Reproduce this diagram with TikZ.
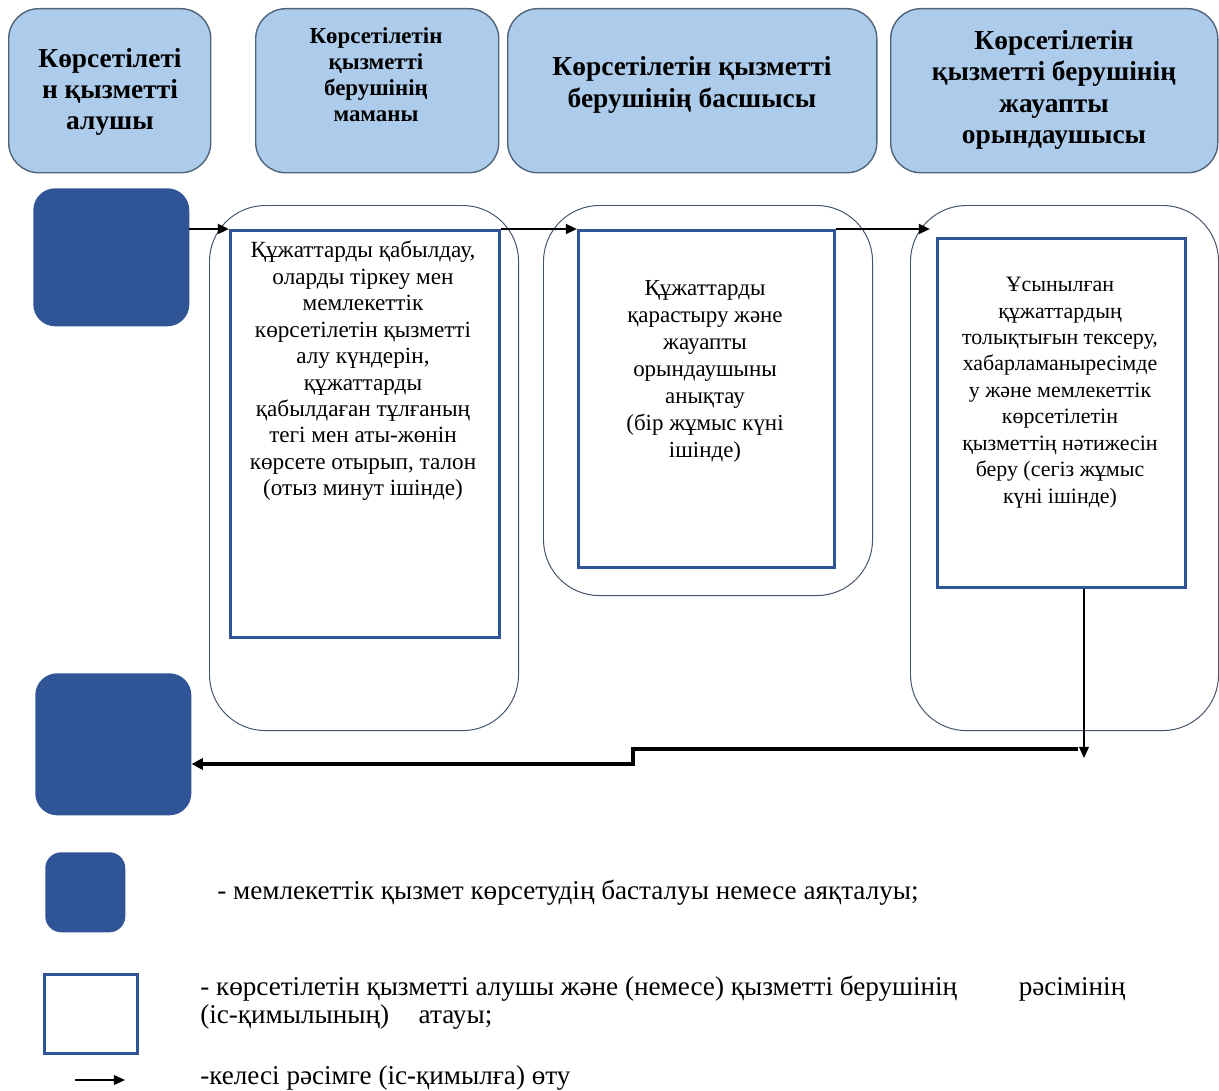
\documentclass[tikz,border=0pt]{standalone}
\usepackage{fontspec}
\setmainfont{Liberation Serif}
\usetikzlibrary{arrows.meta}
\definecolor{hdrfill}{HTML}{ADCBEA}
\definecolor{hdrline}{HTML}{50657A}
\definecolor{darkb}{HTML}{2F5597}
\definecolor{laneline}{HTML}{44546A}
\tikzset{
  hdr/.style={draw=hdrline, fill=hdrfill, rounded corners=0.75cm, line width=1pt, anchor=north west, inner sep=0},
  term/.style={fill=darkb, rounded corners=0.55cm, anchor=north west, inner sep=0},
  lane/.style={draw=laneline, rounded corners=1.4cm, line width=0.7pt, anchor=north west, inner sep=0},
  act/.style={draw=darkb, line width=1.8pt, fill=white, anchor=north west, inner sep=0},
  txt/.style={align=center, font=\fontsize{15.6}{18.8}\selectfont, anchor=north, inner sep=0},
  htxt/.style={align=center, font=\bfseries\fontsize{19.5}{22.2}\selectfont, inner sep=0},
  htxtsm/.style={align=center, font=\bfseries\fontsize{16.3}{18.5}\selectfont, inner sep=0},
  ltxt/.style={align=left, font=\fontsize{19.3}{20}\selectfont, anchor=west, inner sep=0},
  flow/.style={-{Triangle[length=8pt,width=7pt]}, line width=1.7pt},
  flowthin/.style={-{Triangle[length=8pt,width=7pt]}, line width=1.2pt},
  flowthick/.style={-{Triangle[length=8pt,width=8pt]}, line width=2.8pt},
}
\begin{document}
\begin{tikzpicture}[x=0.025cm,y=-0.025cm]
\useasboundingbox[fill=white] (0,0) rectangle (1219,1091);

% headers
\node[hdr, minimum width=5.05cm, minimum height=4.1cm] (h1) at (8,8) {};
\node[hdr, minimum width=6.075cm, minimum height=4.1cm] (h2) at (255,8) {};
\node[hdr, minimum width=9.225cm, minimum height=4.1cm] (h3) at (507,8) {};
\node[hdr, minimum width=8.175cm, minimum height=4.1cm] (h4) at (890,8) {};
\node[htxt] (h1t) at (110,92) {Көрсетілеті\\н қызметті\\алушы};
\node[htxtsm] (h2t) at (376,75) {Көрсетілетін\\қызметті\\берушінің\\маманы};
\node[htxt] (h3t) at (692,85) {Көрсетілетін қызметті\\берушінің басшысы};
\node[htxt] (h4t) at (1054,90) {Көрсетілетін\\қызметті берушінің\\жауапты\\орындаушысы};

% lanes
\node[lane, minimum width=7.725cm, minimum height=13.125cm] (laneA) at (209,205) {};
\node[lane, minimum width=8.225cm, minimum height=9.75cm] (laneB) at (543,205) {};
\node[lane, minimum width=7.7cm, minimum height=13.125cm] (laneC) at (910,205) {};

% terminals
\node[term, minimum width=3.9cm, minimum height=3.45cm] (start) at (33,188) {};
\node[term, minimum width=3.9cm, minimum height=3.55cm] (end) at (35,673) {};

% actions
\node[act, minimum width=6.725cm, minimum height=10.175cm] (rA) at (229,229) {};
\node[act, minimum width=6.4cm, minimum height=8.425cm] (rB) at (577,229) {};
\node[act, minimum width=6.2cm, minimum height=8.725cm] (rC) at (936,237) {};

\node[txt, font=\fontsize{16.5}{18.8}\selectfont] (tA) at (363,241) {Құжаттарды қабылдау,\\оларды тіркеу мен\\мемлекеттік\\көрсетілетін қызметті\\алу күндерін,\\құжаттарды\\қабылдаған тұлғаның\\тегі мен аты-жөнін\\көрсете отырып, талон\\(отыз минут ішінде)};
\node[txt, font=\fontsize{16.3}{19.2}\selectfont] (tB) at (705,280) {Құжаттарды\\қарастыру және\\жауапты\\орындаушыны\\анықтау\\(бір жұмыс күні\\ішінде)};
\node[txt] (tC) at (1060,277) {Ұсынылған\\құжаттардың\\толықтығын тексеру,\\хабарламаныресімде\\у және мемлекеттік\\көрсетілетін\\қызметтің нәтижесін\\беру (сегіз жұмыс\\күні ішінде)};

% flow
\coordinate (a1s) at (189,229);
\coordinate (a3e) at (930,229);
\draw[flow] (a1s) -- (rA.north west);
\draw[flow] (rA.north east) -- (rB.north west);
\draw[flow] (rB.north east) -- (a3e);
\coordinate (dn) at (1084,758);
\draw[flowthin] (rC.south -| dn) -- (dn);
\coordinate (r1) at (1078,749);
\coordinate (r2) at (633,749);
\coordinate (r3) at (633,764);
\draw[flowthick] (r1) -- (r2) -- (r3) -- (end.east |- r3);

% legend
\node[term, minimum width=2cm, minimum height=2cm, rounded corners=0.4cm] (lg1) at (45,852) {};
\node[act, minimum width=2.325cm, minimum height=1.975cm] (lg2) at (43,973) {};
\coordinate (lg3a) at (75,1080);
\coordinate (lg3b) at (125,1080);
\draw[flowthin] (lg3a) -- (lg3b);
\node[ltxt] (lt1) at (217,893) {- мемлекеттік қызмет көрсетудің басталуы немесе аяқталуы;};
\node[ltxt, anchor=north west] (lt2) at (200,976) {- көрсетілетін қызметті алушы және (немесе) қызметті берушінің \hspace{1.2cm} рәсімінің\\(іс-қимылының) \hspace{0.4cm} атауы;};
\node[ltxt] (lt3) at (200,1078) {-келесі рәсімге (іс-қимылға) өту};
\end{tikzpicture}
\end{document}
